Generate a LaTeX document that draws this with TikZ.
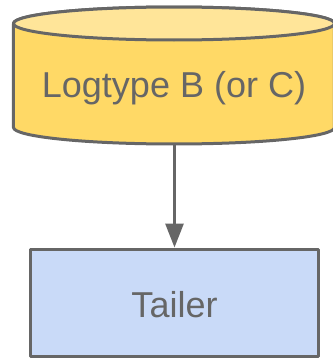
\documentclass[tikz,border=0pt]{standalone}
\usepackage{fontspec}
\setmainfont{Liberation Sans}
\usetikzlibrary{arrows.meta}
\definecolor{strokegray}{HTML}{666666}
\definecolor{cylbody}{HTML}{FFD966}
\definecolor{cyltop}{HTML}{FFE599}
\definecolor{boxblue}{HTML}{C9DAF8}
\tikzset{
  outline/.style={draw=strokegray, line width=3pt, line join=round},
  label/.style={text=strokegray, font=\fontsize{36}{43}\selectfont, inner sep=0pt},
  procbox/.style={outline, fill=boxblue, minimum width=288pt, minimum height=107.5pt},
  flow/.style={draw=strokegray, line width=3pt,
    -{Triangle[width=18pt,length=24pt]}},
}
\begin{document}
\begin{tikzpicture}[x=1pt,y=1pt]
  \useasboundingbox (0,0) rectangle (333,360);
  % storage cylinder (its right side runs past the page edge)
  \path[outline, fill=cylbody]
    (13.5,336.5) -- (13.5,232.5)
    arc[start angle=180, end angle=360, x radius=160.5, y radius=16.5]
    -- (334.5,336.5)
    arc[start angle=0, end angle=180, x radius=160.5, y radius=16.5] -- cycle;
  \path[outline, fill=cyltop] (174,336.5) ellipse[x radius=160.5, y radius=16.5];
  \node[label, anchor=base] (logtype) at (174,262) {Logtype B (or C)};
  \coordinate (cylbottom) at (174.5,216);
  % consumer
  \node[procbox] (tailer) at (174.5,57.25) {};
  \node[label, anchor=base] (tailertext) at (174.5,42) {Tailer};
  \draw[flow] (cylbottom) -- (tailer.north);
\end{tikzpicture}
\end{document}
